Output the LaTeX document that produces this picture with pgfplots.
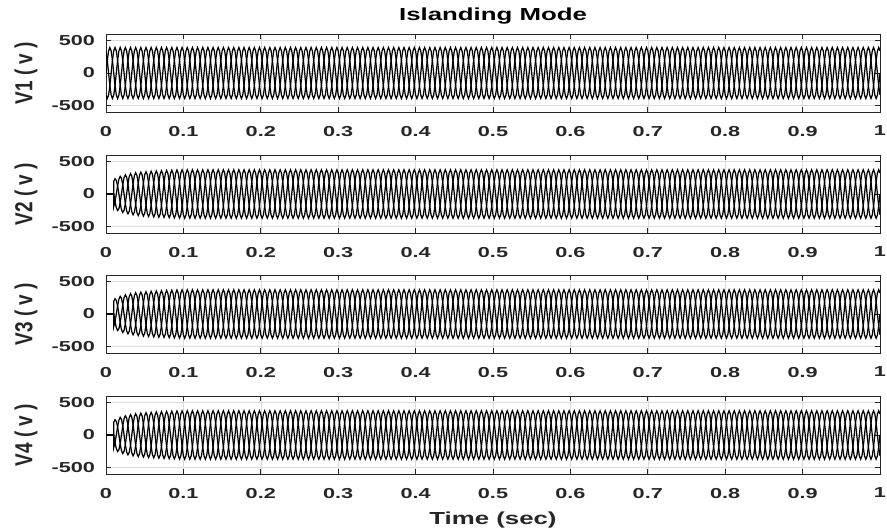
\documentclass[border=0pt]{standalone}
\usepackage{fontspec}
\setmainfont{Liberation Sans}[FakeStretch=1.5]
\newfontfamily\labfont{Liberation Sans}[FakeStretch=1.48]
\newfontfamily\plainfont{Liberation Sans}
\usepackage{graphicx}
\usepackage{pgfplots}
\usepackage{pgfplotstable}
\pgfplotsset{compat=1.18}

% one 0.1 s stretch of the steady three-phase voltages (50 Hz)
% a1 b1 c1 : V1 ; a2 b2 c2 : V2..V4
\pgfplotstableread{
t a1 b1 c1 a2 b2 c2
0 0 -339.5 339.5 0 -322.2 322.2
0.001667 196 -392 196 186 -372 186
0.003333 339.5 -339.5 0 322.2 -322.2 0
0.005 392 -196 -196 372 -186 -186
0.006667 339.5 0 -339.5 322.2 0 -322.2
0.008333 196 196 -392 186 186 -372
0.01 0 339.5 -339.5 0 322.2 -322.2
0.011667 -196 392 -196 -186 372 -186
0.013333 -339.5 339.5 0 -322.2 322.2 0
0.015 -392 196 196 -372 186 186
0.016667 -339.5 0 339.5 -322.2 0 322.2
0.018333 -196 -196 392 -186 -186 372
0.02 0 -339.5 339.5 0 -322.2 322.2
0.021667 196 -392 196 186 -372 186
0.023333 339.5 -339.5 0 322.2 -322.2 0
0.025 392 -196 -196 372 -186 -186
0.026667 339.5 0 -339.5 322.2 0 -322.2
0.028333 196 196 -392 186 186 -372
0.03 0 339.5 -339.5 0 322.2 -322.2
0.031667 -196 392 -196 -186 372 -186
0.033333 -339.5 339.5 0 -322.2 322.2 0
0.035 -392 196 196 -372 186 186
0.036667 -339.5 0 339.5 -322.2 0 322.2
0.038333 -196 -196 392 -186 -186 372
0.04 0 -339.5 339.5 0 -322.2 322.2
0.041667 196 -392 196 186 -372 186
0.043333 339.5 -339.5 0 322.2 -322.2 0
0.045 392 -196 -196 372 -186 -186
0.046667 339.5 0 -339.5 322.2 0 -322.2
0.048333 196 196 -392 186 186 -372
0.05 0 339.5 -339.5 0 322.2 -322.2
0.051667 -196 392 -196 -186 372 -186
0.053333 -339.5 339.5 0 -322.2 322.2 0
0.055 -392 196 196 -372 186 186
0.056667 -339.5 0 339.5 -322.2 0 322.2
0.058333 -196 -196 392 -186 -186 372
0.06 0 -339.5 339.5 0 -322.2 322.2
0.061667 196 -392 196 186 -372 186
0.063333 339.5 -339.5 0 322.2 -322.2 0
0.065 392 -196 -196 372 -186 -186
0.066667 339.5 0 -339.5 322.2 0 -322.2
0.068333 196 196 -392 186 186 -372
0.07 0 339.5 -339.5 0 322.2 -322.2
0.071667 -196 392 -196 -186 372 -186
0.073333 -339.5 339.5 0 -322.2 322.2 0
0.075 -392 196 196 -372 186 186
0.076667 -339.5 0 339.5 -322.2 0 322.2
0.078333 -196 -196 392 -186 -186 372
0.08 0 -339.5 339.5 0 -322.2 322.2
0.081667 196 -392 196 186 -372 186
0.083333 339.5 -339.5 0 322.2 -322.2 0
0.085 392 -196 -196 372 -186 -186
0.086667 339.5 0 -339.5 322.2 0 -322.2
0.088333 196 196 -392 186 186 -372
0.09 0 339.5 -339.5 0 322.2 -322.2
0.091667 -196 392 -196 -186 372 -186
0.093333 -339.5 339.5 0 -322.2 322.2 0
0.095 -392 196 196 -372 186 186
0.096667 -339.5 0 339.5 -322.2 0 322.2
0.098333 -196 -196 392 -186 -186 372
0.1 0 -339.5 339.5 0 -322.2 322.2
}\steady

% start-up transient of V2..V4 (first 0.1 s)
\pgfplotstableread{
t a b c
0 0 0 0
0.01 0 0 0
0.01 0 194.9 -194.9
0.011667 -117 234 -117
0.013333 -210.4 210.4 0
0.015 -253 126.5 126.5
0.016667 -226.9 0 226.9
0.018333 -135.5 -135.5 271
0.02 0 -242.5 242.5
0.021667 142.5 -285 142.5
0.023333 251.1 -251.1 0
0.025 295 -147.5 -147.5
0.026667 259.8 0 -259.8
0.028333 152.5 152.5 -305
0.03 0 268.5 -268.5
0.031667 -156.5 313 -156.5
0.033333 -274.5 274.5 0
0.035 -320 160 160
0.036667 -279.7 0 279.7
0.038333 -163.5 -163.5 327
0.04 0 -285.8 285.8
0.041667 166 -332 166
0.043333 289.2 -289.2 0
0.045 336 -168 -168
0.046667 292.7 0 -292.7
0.048333 170 170 -340
0.05 0 296.2 -296.2
0.051667 -171.5 343 -171.5
0.053333 -298.8 298.8 0
0.055 -346 173 173
0.056667 -300.5 0 300.5
0.058333 -174.5 -174.5 349
0.06 0 -303.1 303.1
0.061667 175.5 -351 175.5
0.063333 304.8 -304.8 0
0.065 354 -177 -177
0.066667 307.4 0 -307.4
0.068333 178 178 -356
0.07 0 309.2 -309.2
0.071667 -179 358 -179
0.073333 -310.9 310.9 0
0.075 -360 180 180
0.076667 -312.6 0 312.6
0.078333 -181 -181 362
0.08 0 -314.4 314.4
0.081667 182 -364 182
0.083333 316.1 -316.1 0
0.085 366 -183 -183
0.086667 317 0 -317
0.088333 183.5 183.5 -367
0.09 0 318.7 -318.7
0.091667 -184.5 369 -184.5
0.093333 -319.6 319.6 0
0.095 -370 185 185
0.096667 -321.3 0 321.3
0.098333 -185.5 -185.5 371
0.1 0 -322.2 322.2
}\trans

\pgfplotsset{
  vstyle/.style={
    scale only axis, width=774bp, height=78bp,
    xmin=0, xmax=1, ymin=-600, ymax=600,
    xtick={0,0.1,0.2,0.3,0.4,0.5,0.6,0.7,0.8,0.9,1},
    xticklabels={0,0.1,0.2,0.3,0.4,0.5,0.6,0.7,0.8,0.9,1},
    ytick={-500,0,500}, yticklabels={-500,0,500},
    grid=major, major grid style={black!14, line width=0.6bp},
    axis line style={black!85, line width=0.8bp},
    tick style={black!85, line width=0.8bp},
    tick align=inside, major tick length=5bp,
    /pgf/number format/assume math mode=true,
    tick label style={font=\fontsize{14.5}{16}\selectfont\bfseries, text=black!85},
    xticklabel style={yshift=-10.5bp},
    yticklabel style={xshift=-7.5bp},
    every axis y label/.style={at={([xshift=-80bp]axis description cs:0,0.5)}, anchor=center, rotate=90,
      font=\plainfont\bfseries\fontsize{19}{21}\selectfont, text=black!85},
    every axis x label/.style={at={([yshift=-46bp]axis description cs:0.5,0)}, anchor=center,
      font=\labfont\bfseries\fontsize{17.5}{19}\selectfont, text=black!85},
    every axis title/.style={at={([yshift=13bp]axis description cs:0.5,1)}, anchor=base,
      font=\labfont\bfseries\fontsize{17.5}{19}\selectfont, text=black},
  },
  wave/.style={black, line width=1.25bp, mark=none},
}

\begin{document}
\begin{tikzpicture}
\path[use as bounding box] (0,0) rectangle (887bp,531bp);

% ---- V1 ----
\begin{axis}[vstyle, at={(106bp,497bp)}, anchor=north west,
  title={Islanding Mode}, ylabel={\scalebox{1}[1.3]{V1 ( v )}}]
\pgfplotsinvokeforeach{0,...,9}{
  \addplot[wave] table[x expr=\thisrow{t}+#1*0.1, y=a1]{\steady};
  \addplot[wave] table[x expr=\thisrow{t}+#1*0.1, y=b1]{\steady};
  \addplot[wave] table[x expr=\thisrow{t}+#1*0.1, y=c1]{\steady};
}
\end{axis}

% ---- V2 ----
\begin{axis}[vstyle, at={(106bp,376bp)}, anchor=north west,
  ylabel={\scalebox{1}[1.3]{V2 ( v )}}]
\addplot[wave] table[x=t, y=a]{\trans};
\addplot[wave] table[x=t, y=b]{\trans};
\addplot[wave] table[x=t, y=c]{\trans};
\pgfplotsinvokeforeach{1,...,9}{
  \addplot[wave] table[x expr=\thisrow{t}+#1*0.1, y=a2]{\steady};
  \addplot[wave] table[x expr=\thisrow{t}+#1*0.1, y=b2]{\steady};
  \addplot[wave] table[x expr=\thisrow{t}+#1*0.1, y=c2]{\steady};
}
\end{axis}

% ---- V3 ----
\begin{axis}[vstyle, at={(106bp,256bp)}, anchor=north west,
  ylabel={\scalebox{1}[1.3]{V3 ( v )}}]
\addplot[wave] table[x=t, y=a]{\trans};
\addplot[wave] table[x=t, y=b]{\trans};
\addplot[wave] table[x=t, y=c]{\trans};
\pgfplotsinvokeforeach{1,...,9}{
  \addplot[wave] table[x expr=\thisrow{t}+#1*0.1, y=a2]{\steady};
  \addplot[wave] table[x expr=\thisrow{t}+#1*0.1, y=b2]{\steady};
  \addplot[wave] table[x expr=\thisrow{t}+#1*0.1, y=c2]{\steady};
}
\end{axis}

% ---- V4 ----
\begin{axis}[vstyle, at={(106bp,135bp)}, anchor=north west,
  ylabel={\scalebox{1}[1.3]{V4 ( v )}}, xlabel={Time (sec)}]
\addplot[wave] table[x=t, y=a]{\trans};
\addplot[wave] table[x=t, y=b]{\trans};
\addplot[wave] table[x=t, y=c]{\trans};
\pgfplotsinvokeforeach{1,...,9}{
  \addplot[wave] table[x expr=\thisrow{t}+#1*0.1, y=a2]{\steady};
  \addplot[wave] table[x expr=\thisrow{t}+#1*0.1, y=b2]{\steady};
  \addplot[wave] table[x expr=\thisrow{t}+#1*0.1, y=c2]{\steady};
}
\end{axis}
\end{tikzpicture}
\end{document}
